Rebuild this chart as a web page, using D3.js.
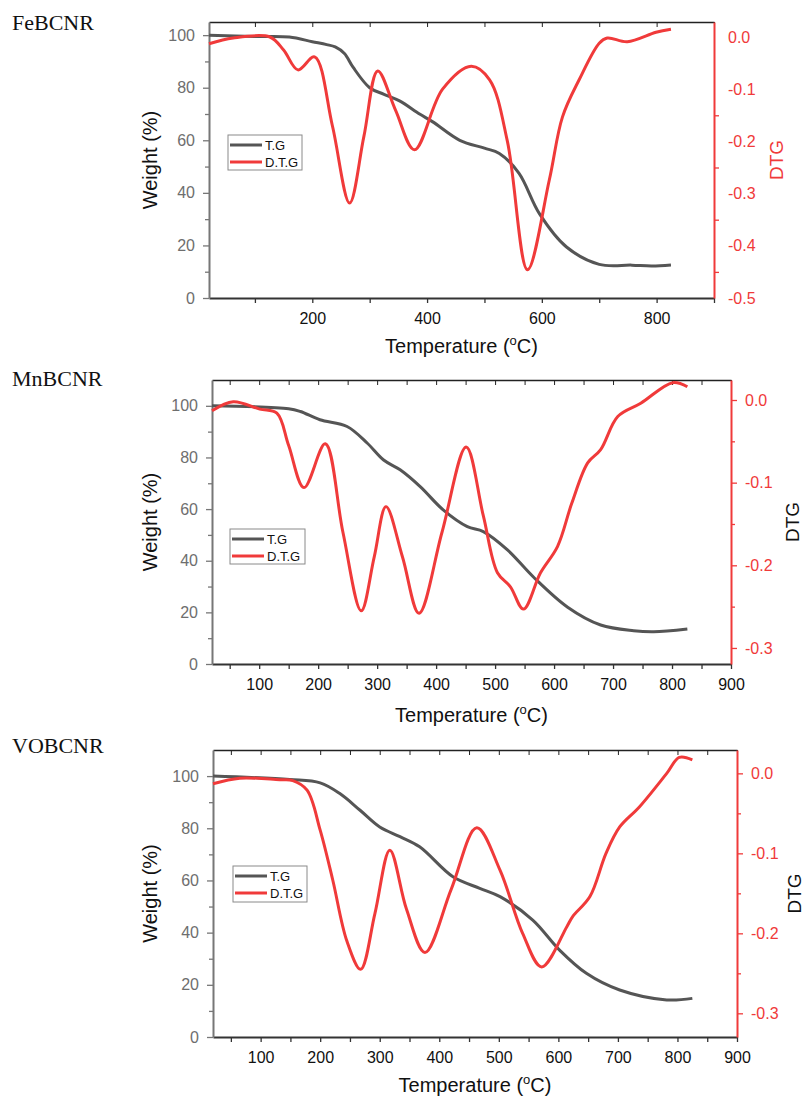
<!DOCTYPE html>
<html>
<head>
<meta charset="utf-8">
<script src="https://cdn.jsdelivr.net/npm/d3@7"></script>
<style>
body{margin:0;background:#fff}
svg{display:block}
text{font-family:"Liberation Sans",Arial,sans-serif}
</style>
</head>
<body>
<svg width="806" height="1099"></svg>
<script>
// ---- data ----
var titles = ["FeBCNR", "MnBCNR", "VOBCNR"];
var legendNames = ["T.G", "D.T.G"];

// FeBCNR
var feTgT  = [20,100,160,200,225,240,256,271,300,325,352,387,410,457,500,526,560,596,643,700,757,792,825];
var feTg   = [100,99.5,99.3,97.5,96.4,95.5,93,87.8,80,77.5,75,70,67,60,57,55,47.5,32,19.4,12.8,12.5,12.2,12.6];
var feDtgT = [20,62,126,150,175,204,235,265,290,314,345,378,427,477,509,540,575,613,636,665,700,714,749,799,825];
var feDtg  = [-0.013,-0.002,0.0,-0.025,-0.063,-0.038,-0.17,-0.318,-0.19,-0.065,-0.14,-0.216,-0.10,-0.056,-0.082,-0.2,-0.446,-0.274,-0.153,-0.082,-0.012,-0.002,-0.009,0.009,0.015];

// MnBCNR
var mnTgT  = [20,150,170,203,249,283,311,339,373,412,453,480,521,565,623,679,735,769,826];
var mnTg   = [100,98.9,97.8,94.6,92,85.6,79,75.2,68.7,59.7,53.2,51.3,44.2,33.7,22,15.1,12.9,12.5,13.6];
var mnDtgT = [20,56,101,130,150,176,212,242,273,295,315,343,371,410,451,480,504,526,548,577,606,630,657,679,708,747,801,826];
var mnDtg  = [-0.013,-0.002,-0.011,-0.016,-0.055,-0.106,-0.053,-0.16,-0.255,-0.19,-0.129,-0.19,-0.258,-0.16,-0.057,-0.14,-0.209,-0.226,-0.253,-0.209,-0.177,-0.125,-0.076,-0.06,-0.020,-0.004,0.021,0.016];

// VOBCNR
var voTgT  = [20,149,200,233,267,300,334,367,423,468,502,557,602,647,703,782,825];
var voTg   = [100,98.7,97.4,93.3,86.9,80.5,76.8,72.9,61.4,57,53.8,44.8,33.3,24.4,18,14.2,14.8];
var voDtgT = [20,65,132,154,178,200,221,245,268,292,317,345,376,420,463,502,540,572,614,624,653,680,703,736,782,803,825];
var voDtg  = [-0.013,-0.006,-0.008,-0.009,-0.021,-0.071,-0.133,-0.21,-0.245,-0.175,-0.096,-0.17,-0.224,-0.145,-0.068,-0.121,-0.2,-0.242,-0.192,-0.179,-0.154,-0.1,-0.067,-0.042,0,0.020,0.017];

// axis ticks
var feXTicks = [100,200,300,400,500,600,700,800,900];
var feXLabels = [200,400,600,800];
var xTicks50 = d3.range(50, 901, 50);
var xLabels100 = d3.range(100, 901, 100);
var wTicks = d3.range(0, 101, 10);
var wLabels = [0,20,40,60,80,100];
var feDLabels = [0,-0.1,-0.2,-0.3,-0.4,-0.5];
var feDMinor = [-0.15,-0.25,-0.35,-0.45];
var dLabels = [0,-0.1,-0.2,-0.3];
var dMinor = [-0.05,-0.15,-0.25];

// ---- layout ----
var panels = [
  {title:titles[0], titleY:30, left:209, right:714, top:22, bottom:298, wMax:105, dDom:[-0.5,0.0287],
   tgT:feTgT, tg:feTg, dT:feDtgT, d:feDtg, xTicks:feXTicks, xLabels:feXLabels,
   dLab:feDLabels, dMin:feDMinor, dMajorTick:false, dtgColor:"#f03a3a",
   xLabelY:353, dtgX:783, legend:[228,135,74,35]},
  {title:titles[1], titleY:386, left:212, right:731, top:380, bottom:664, wMax:110, dDom:[-0.3194,0.0242],
   tgT:mnTgT, tg:mnTg, dT:mnDtgT, d:mnDtg, xTicks:xTicks50, xLabels:xLabels100,
   dLab:dLabels, dMin:dMinor, dMajorTick:true, dtgColor:"#111",
   xLabelY:722, dtgX:799, legend:[230,529,75,35]},
  {title:titles[2], titleY:753, left:213, right:737, top:750, bottom:1037, wMax:110, dDom:[-0.3296,0.0292],
   tgT:voTgT, tg:voTg, dT:voDtgT, d:voDtg, xTicks:xTicks50, xLabels:xLabels100,
   dLab:dLabels, dMin:dMinor, dMajorTick:true, dtgColor:"#111",
   xLabelY:1092, dtgX:801, legend:[233,866,74,36]}
];

var red = "#f03a3a", grey = "#555555";
var svg = d3.select("svg");
var fmt1 = function(v){ return d3.format(".1f")(v).replace("\u2212","-"); };

panels.forEach(function(p){
  var g = svg.append("g");
  var x = d3.scaleLinear().domain([20,900]).range([p.left,p.right]);
  var yW = d3.scaleLinear().domain([0,p.wMax]).range([p.bottom,p.top]);
  var yD = d3.scaleLinear().domain(p.dDom).range([p.bottom,p.top]);

  // title
  g.append("text").attr("x",12).attr("y",p.titleY)
    .style("font-family","'Liberation Serif','Times New Roman',serif")
    .style("font-size","22px").attr("fill","#111").text(p.title);

  // top axis (ticks only, inward)
  var top = g.append("g").attr("transform","translate(0,"+p.top+")")
    .call(d3.axisTop(x).tickValues(p.xTicks).tickSizeInner(-5).tickSizeOuter(0).tickFormat(""));
  top.selectAll("line").attr("stroke","#222");
  top.select(".domain").attr("stroke","#222").attr("stroke-width",1.5);

  // bottom axis
  var bot = g.append("g").attr("transform","translate(0,"+p.bottom+")")
    .call(d3.axisBottom(x).tickValues(p.xTicks).tickSizeInner(5).tickSizeOuter(0).tickPadding(10)
      .tickFormat(function(v){ return p.xLabels.indexOf(v) >= 0 ? v : ""; }));
  bot.select(".domain").attr("stroke","#333").attr("stroke-width",2);
  bot.selectAll("line").attr("stroke","#333").attr("stroke-width",1.3);
  bot.selectAll("text").attr("fill","#111").style("font-size","16px");

  // left axis (weight)
  var lft = g.append("g").attr("transform","translate("+p.left+",0)")
    .call(d3.axisLeft(yW).tickValues(wTicks).tickSizeInner(6).tickSizeOuter(0).tickPadding(8)
      .tickFormat(function(v){ return wLabels.indexOf(v) >= 0 ? v : ""; }));
  lft.select(".domain").attr("stroke","#777").attr("stroke-width",2);
  lft.selectAll(".tick line").attr("stroke","#777").attr("stroke-width",1.3)
    .attr("x2", function(v){ return wLabels.indexOf(v) >= 0 ? -6 : -4; });
  lft.selectAll("text").attr("fill","#6e6e6e").style("font-size","16px");

  // right axis (DTG)
  var rgt = g.append("g").attr("transform","translate("+p.right+",0)")
    .call(d3.axisRight(yD).tickValues(p.dLab).tickSizeInner(p.dMajorTick ? 6 : 0)
      .tickSizeOuter(0).tickPadding(p.dMajorTick ? 8 : 14).tickFormat(fmt1));
  rgt.select(".domain").attr("stroke",red).attr("stroke-width",2);
  rgt.selectAll("line").attr("stroke",red).attr("stroke-width",1.3);
  rgt.selectAll("text").attr("fill",red).style("font-size","16px");
  var rmin = g.append("g").attr("transform","translate("+p.right+",0)")
    .call(d3.axisRight(yD).tickValues(p.dMin).tickSizeInner(p.dMajorTick ? 4 : 5).tickSizeOuter(0).tickFormat(""));
  rmin.select(".domain").remove();
  rmin.selectAll("line").attr("stroke",red).attr("stroke-width",1.3);

  // curves
  var tgData = p.tgT.map(function(t,i){ return [t,p.tg[i]]; });
  var dData = p.dT.map(function(t,i){ return [t,p.d[i]]; });
  var curve = d3.curveCatmullRom.alpha(0.5);
  g.append("path").datum(tgData)
    .attr("d", d3.line().x(function(d){return x(d[0]);}).y(function(d){return yW(d[1]);}).curve(curve))
    .attr("fill","none").attr("stroke",grey).attr("stroke-width",3);
  g.append("path").datum(dData)
    .attr("d", d3.line().x(function(d){return x(d[0]);}).y(function(d){return yD(d[1]);}).curve(curve))
    .attr("fill","none").attr("stroke",red).attr("stroke-width",3);

  // axis titles
  var cy = (p.top+p.bottom)/2, cx = (p.left+p.right)/2;
  g.append("text").attr("transform","translate(157,"+cy+") rotate(-90)")
    .attr("text-anchor","middle").style("font-size","20px").attr("fill","#111").text("Weight (%)");
  g.append("text").attr("transform","translate("+p.dtgX+","+cy+") rotate(-90)")
    .attr("text-anchor","middle").style("font-size","19px").attr("fill",p.dtgColor).text("DTG");
  var xl = g.append("text").attr("x",cx).attr("y",p.xLabelY).attr("text-anchor","middle")
    .style("font-size","20px").attr("fill","#111");
  xl.append("tspan").text("Temperature (");
  xl.append("tspan").attr("dy",-8).style("font-size","13px").text("o");
  xl.append("tspan").attr("dy",8).text("C)");

  // legend
  var L = p.legend;
  var lg = g.append("g");
  lg.append("rect").attr("x",L[0]).attr("y",L[1]).attr("width",L[2]).attr("height",L[3])
    .attr("fill","#fff").attr("stroke","#8a8a8a").attr("stroke-width",1);
  [grey, red].forEach(function(c,i){
    var ry = L[1] + 10 + i*17;
    lg.append("line").attr("x1",L[0]+2).attr("x2",L[0]+34).attr("y1",ry).attr("y2",ry)
      .attr("stroke",c).attr("stroke-width",3);
    lg.append("text").attr("x",L[0]+37).attr("y",ry+4.5).style("font-size","13px")
      .attr("fill","#111").text(legendNames[i]);
  });
});
</script>
</body>
</html>
